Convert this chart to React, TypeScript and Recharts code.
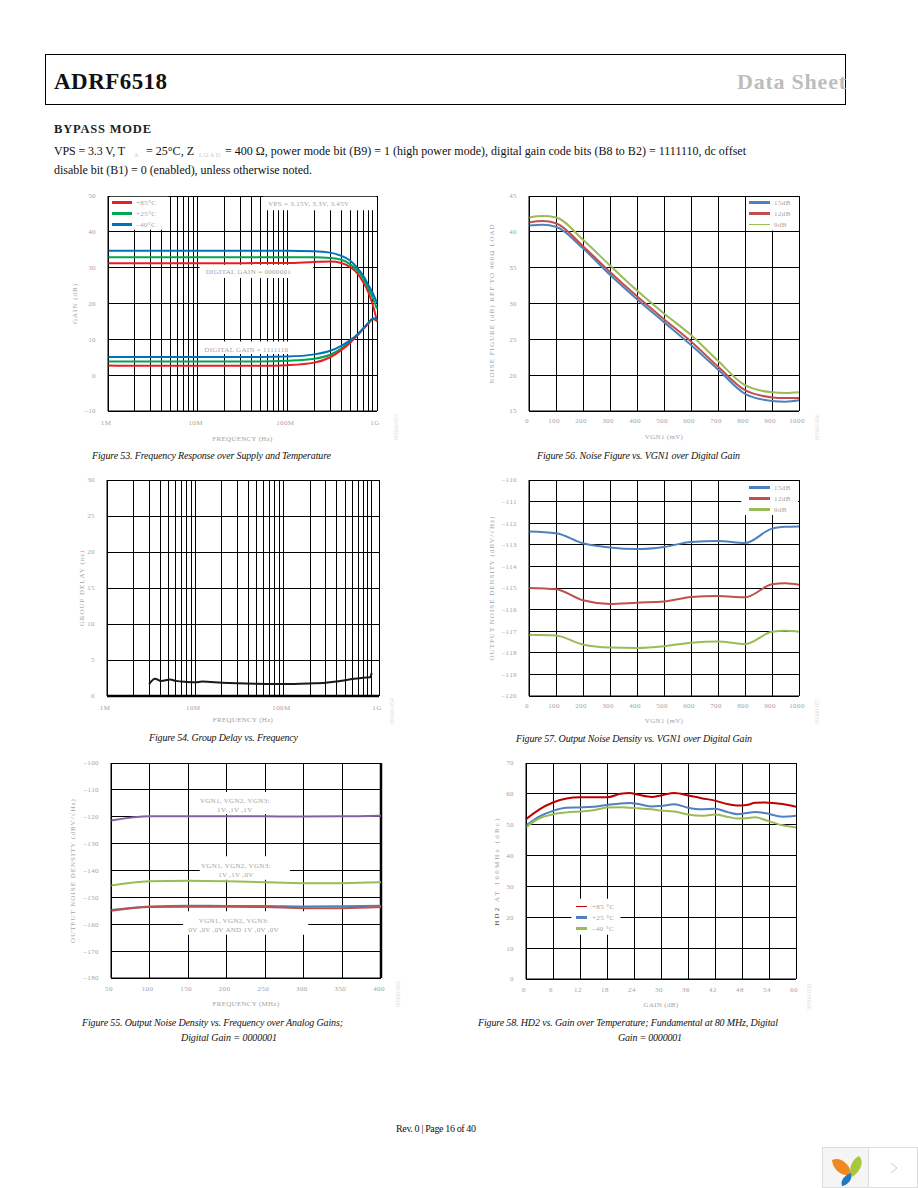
import {
  CartesianGrid,
  Label,
  Legend,
  Line,
  LineChart,
  ReferenceArea,
  ReferenceLine,
  XAxis,
  YAxis,
} from "recharts"

const FONT = '"Liberation Serif", serif'
const PALE = "#a3a3a3"

// Figure 53
const gainFreqs = [1e6, 2e6, 5e6, 1e7, 2e7, 5e7, 1e8, 2e8, 3e8, 4e8, 5e8, 6e8, 7e8, 8e8, 9e8, 1e9]
const gainHighHot = [31.2, 31.2, 31.2, 31.2, 31.2, 31.3, 31.3, 31.6, 31.7, 31.3, 30.2, 28.5, 26, 23.2, 19.5, 15]
const gainHighRoom = [32.9, 32.9, 32.9, 32.9, 32.9, 32.9, 32.9, 32.9, 32.7, 32.2, 31, 29.3, 27, 24.3, 21.5, 18.5]
const gainHighCold = [34.7, 34.7, 34.7, 34.7, 34.7, 34.7, 34.7, 34.6, 34.2, 33.3, 32, 30, 27.8, 25.2, 22.8, 20.2]
const gainLowHot = [2.7, 2.6, 2.6, 2.6, 2.6, 2.6, 2.8, 3.5, 5, 7, 9, 11, 12.8, 14.4, 15.8, 15]
const gainLowRoom = [3.8, 3.8, 3.8, 3.8, 3.8, 3.8, 4, 4.6, 5.7, 7.4, 9.4, 11.2, 13, 14.5, 15.6, 15.5]
const gainLowCold = [5.1, 5.1, 5.1, 5.1, 5.1, 5.1, 5.2, 5.8, 6.8, 8.2, 9.7, 11.3, 13, 14.6, 15.8, 15.8]
const gainTicks = [-10, 0, 10, 20, 30, 40, 50]

// Figure 54
const delayFreqs = [3e6, 3.5e6, 4.1e6, 5.2e6, 6e6, 8e6, 1e7, 1.2e7, 2e7, 5e7, 1e8, 2e8, 3e8, 4e8, 5e8, 6e8, 8e8, 9.6e8, 1e9]
const delayValues = [1.65, 2.4, 2.1, 2.3, 2.1, 1.95, 1.9, 2, 1.85, 1.7, 1.65, 1.75, 1.85, 2, 2.2, 2.35, 2.55, 2.6, 3.2]
const delayTicks = [0, 5, 10, 15, 20, 25, 30]

// Figure 55
const noiseFreqs = [50, 100, 150, 200, 250, 300, 350, 400]
const noiseAllHigh = [-121.4, -119.85, -119.8, -119.8, -119.85, -119.9, -119.85, -119.6]
const noiseTwoHigh = [-145.6, -144, -143.8, -144, -144.4, -144.7, -144.7, -144.4]
const noiseAllLow = [-154.7, -153.4, -153.1, -153.2, -153.2, -153.4, -153.3, -153.1]
const noiseOneHigh = [-155, -153.6, -153.5, -153.5, -153.6, -154, -154, -153.6]
const noiseTicks = [-180, -170, -160, -150, -140, -130, -120, -110, -100]
const noiseXTicks = [50, 100, 150, 200, 250, 300, 350, 400]

// Figure 56
const nfVgn = [0, 50, 100, 200, 300, 400, 500, 600, 700, 800, 900, 950, 1000]
const nf15 = [40.9, 41, 40.7, 37.7, 34, 30.6, 27.4, 24.2, 20.8, 17.4, 16.4, 16.3, 16.5]
const nf12 = [41.3, 41.5, 41.2, 38, 34.4, 31, 27.8, 24.7, 21.2, 17.9, 16.9, 16.8, 16.8]
const nf9 = [42, 42.2, 42, 38.9, 35.3, 31.8, 28.6, 25.6, 22, 18.6, 17.6, 17.5, 17.6]
const nfTicks = [15, 20, 25, 30, 35, 40, 45]
const vgnTicks = [0, 100, 200, 300, 400, 500, 600, 700, 800, 900, 1000]

// Figure 57
const ondVgn = [0, 100, 200, 300, 400, 500, 600, 700, 800, 900, 950, 1000]
const ond15 = [-112.39, -112.47, -112.93, -113.13, -113.2, -113.1, -112.87, -112.82, -112.92, -112.25, -112.17, -112.15]
const ond12 = [-115, -115.06, -115.57, -115.74, -115.68, -115.63, -115.42, -115.37, -115.43, -114.83, -114.78, -114.85]
const ond9 = [-117.16, -117.2, -117.62, -117.76, -117.78, -117.7, -117.53, -117.48, -117.6, -117.03, -116.98, -117.03]
const ondTicks = [-120, -119, -118, -117, -116, -115, -114, -113, -112, -111, -110]

// Figure 58
const hd2Gain = [0, 3, 6, 9, 12, 15, 18, 21, 23, 25, 28, 30, 33, 36, 39, 42, 45, 47, 49, 51, 53, 57, 60]
const hd2Hot = [51.8, 55, 57.2, 58.5, 58.9, 58.9, 58.9, 60, 60.3, 59.7, 59, 59.5, 60.3, 59.5, 58.6, 57.8, 56.6, 56.2, 56.4, 57.1, 57.2, 56.7, 55.8]
const hd2Room = [49.7, 52.7, 54.5, 55.5, 55.6, 55.8, 56.4, 56.9, 57, 56.7, 55.9, 56.1, 56.6, 55.5, 55, 55.2, 54, 53.4, 53.8, 54.1, 53.8, 52.6, 52.9]
const hd2Cold = [49.2, 52.1, 53.4, 54, 54.3, 54.7, 55.6, 55.7, 55.5, 55.3, 55, 54.6, 54.3, 53.3, 52.9, 53.3, 52.5, 52, 52.1, 52.4, 51.6, 49.8, 49.1]
const hd2Ticks = [0, 10, 20, 30, 40, 50, 60, 70]
const hd2XTicks = [0, 6, 12, 18, 24, 30, 36, 42, 48, 54, 60]

const logTicks = [1, 2, 3, 4, 5, 6, 7, 8, 9, 10, 20, 30, 40, 50, 60, 70, 80, 90, 100, 200, 300, 400, 500, 600, 700, 800, 900, 1000].map((m) => m * 1e6)
const decadeNames: Record<number, string> = { 1e6: "1M", 1e7: "10M", 1e8: "100M", 1e9: "1G" }

const gainRows = gainFreqs.map((f, i) => ({
  f,
  hiHot: gainHighHot[i],
  hiRoom: gainHighRoom[i],
  hiCold: gainHighCold[i],
  loHot: gainLowHot[i],
  loRoom: gainLowRoom[i],
  loCold: gainLowCold[i],
}))
const delayRows = delayFreqs.map((f, i) => ({ f, delay: delayValues[i] }))
const noiseRows = noiseFreqs.map((f, i) => ({
  f,
  allHigh: noiseAllHigh[i],
  twoHigh: noiseTwoHigh[i],
  allLow: noiseAllLow[i],
  oneHigh: noiseOneHigh[i],
}))
const nfRows = nfVgn.map((v, i) => ({ v, a: nf15[i], b: nf12[i], c: nf9[i] }))
const ondRows = ondVgn.map((v, i) => ({ v, a: ond15[i], b: ond12[i], c: ond9[i] }))
const hd2Rows = hd2Gain.map((g, i) => ({ g, hot: hd2Hot[i], room: hd2Room[i], cold: hd2Cold[i] }))

const tickStyle = { fill: PALE, fontSize: 7, fontFamily: FONT, letterSpacing: 0.4 }
const xTickStyle = { ...tickStyle, dx: -2 }
const labelStyle = { fill: PALE, fontSize: 7, fontFamily: FONT, letterSpacing: 0.3 }
const yLabelStyle = { ...labelStyle, letterSpacing: 1 }
const axisLine = { stroke: "#000", strokeWidth: 1 }
const gridProps = { stroke: "#000", strokeWidth: 1, strokeOpacity: 1, shapeRendering: "crispEdges" }
const minus = (v: number) => String(v).replace("-", "\u2013")
const margin = { top: 10, right: 10, left: 0, bottom: 0 }
const plain = { dot: false, activeDot: false, isAnimationActive: false, type: "monotone" as const }

const pageStyle: React.CSSProperties = {
  position: "absolute",
  left: 0,
  top: 0,
  width: 918,
  height: 1188,
  overflow: "hidden",
  background: "#fff",
}

const place = (left: number, top: number): React.CSSProperties => ({ position: "absolute", left, top })

function rowLegend(lineWidth: number, gap: number, thin?: string) {
  return ({ payload }: any) => (
    <div style={{ fontFamily: FONT, fontSize: 7, color: PALE, letterSpacing: 0.4 }}>
      {(payload || [])
        .filter((p: any) => p.type !== "none")
        .map((p: any) => (
          <div key={p.value} style={{ display: "flex", alignItems: "center", height: 11 }}>
            <div
              style={{
                width: lineWidth,
                height: p.value === thin ? 1.3 : 2.5,
                background: p.color,
                marginRight: gap,
              }}
            />
            <span>{p.value}</span>
          </div>
        ))}
    </div>
  )
}

const legendBase = {
  layout: "vertical" as const,
  align: "center" as const,
  verticalAlign: "middle" as const,
  itemSorter: null,
}

// only the "HD2" of this axis title is dark in the scan
const hd2Title = ({ viewBox }: any) => {
  const x = viewBox.x + 23
  const y = viewBox.y + viewBox.height / 2
  return (
    <text x={x} y={y} transform={`rotate(-90 ${x} ${y})`} textAnchor="middle" fontFamily={FONT} fontSize={7} letterSpacing={2.2} fill={PALE}>
      <tspan fill="#444">HD2</tspan> AT 160MHz (dBc)
    </text>
  )
}

function Fig53() {
  return (
    <div style={place(58, 186)}>
      <LineChart width={329} height={265} data={gainRows} margin={margin}>
        <CartesianGrid {...gridProps} />
        <XAxis
          dataKey="f"
          type="number"
          scale="log"
          domain={[1e6, 1e9]}
          ticks={logTicks}
          interval={0}
          tickLine={false}
          tickMargin={3}
          height={40}
          axisLine={axisLine}
          tick={xTickStyle}
          tickFormatter={(v: number) => decadeNames[v] || ""}
          label={{ value: "FREQUENCY (Hz)", position: "insideBottom", offset: 10, ...labelStyle }}
        />
        <YAxis
          type="number"
          domain={[-10, 50]}
          ticks={gainTicks}
          interval={0}
          width={50}
          tickLine={false}
          tickMargin={6}
          axisLine={axisLine}
          tick={tickStyle}
          tickFormatter={minus}
          label={{ value: "GAIN (dB)", angle: -90, position: "insideLeft", offset: 17, textAnchor: "middle", ...yLabelStyle }}
        />
        <ReferenceArea x1={1.05e6} x2={4.7e6} y1={40.6} y2={49.8} fill="#fff" fillOpacity={1} stroke="none" />
        <ReferenceArea x1={5.4e7} x2={9.8e8} y1={46} y2={49.8} fill="#fff" fillOpacity={1} stroke="none">
          <Label value="VPS = 3.15V, 3.3V, 3.45V" position="center" dx={-11} {...labelStyle} />
        </ReferenceArea>
        <ReferenceArea x1={1.05e7} x2={1.94e8} y1={27.1} y2={30.8} fill="#fff" fillOpacity={1} stroke="none">
          <Label value="DIGITAL GAIN = 0000001" position="center" dx={-8} {...labelStyle} />
        </ReferenceArea>
        <ReferenceArea x1={1.1e7} x2={1.11e8} y1={5.9} y2={9.4} fill="#fff" fillOpacity={1} stroke="none">
          <Label value="DIGITAL GAIN = 1111110" position="center" dy={2} {...labelStyle} />
        </ReferenceArea>
        <Line {...plain} dataKey="hiHot" name="+85°C" stroke="#ed1c24" strokeWidth={2} />
        <Line {...plain} dataKey="hiRoom" name="+25°C" stroke="#00a651" strokeWidth={2} />
        <Line {...plain} dataKey="hiCold" name={"\u201340°C"} stroke="#0072bc" strokeWidth={2} />
        <Line {...plain} dataKey="loRoom" legendType="none" stroke="#00a651" strokeWidth={2} />
        <Line {...plain} dataKey="loHot" legendType="none" stroke="#ed1c24" strokeWidth={2} />
        <Line {...plain} dataKey="loCold" legendType="none" stroke="#0072bc" strokeWidth={2} />
        <Legend
          {...legendBase}
          width={70}
          height={33}
          wrapperStyle={{ left: 54, top: 11 }}
          content={rowLegend(20, 4)}
        />
      </LineChart>
    </div>
  )
}

function Fig54() {
  return (
    <div style={place(57, 470)}>
      <LineChart width={332} height={266} data={delayRows} margin={margin}>
        <CartesianGrid {...gridProps} />
        <XAxis
          dataKey="f"
          type="number"
          scale="log"
          domain={[1e6, 1.21e9]}
          ticks={[...logTicks, 1.21e9]}
          interval={0}
          tickLine={false}
          tickMargin={3}
          height={40}
          axisLine={{ stroke: "#000", strokeWidth: 2.5 }}
          tick={xTickStyle}
          tickFormatter={(v: number) => (v === 1.21e9 ? "1G" : v === 1e9 ? "" : decadeNames[v] || "")}
          label={{ value: "FREQUENCY (Hz)", position: "insideBottom", offset: 14, ...labelStyle }}
        />
        <YAxis
          type="number"
          domain={[0, 30]}
          ticks={delayTicks}
          interval={0}
          width={50}
          tickLine={false}
          tickMargin={6}
          axisLine={axisLine}
          tick={tickStyle}
          label={{ value: "GROUP DELAY (ns)", angle: -90, position: "insideLeft", offset: 25, textAnchor: "middle", ...yLabelStyle }}
        />
        <Line {...plain} dataKey="delay" stroke="#1a1a1a" strokeWidth={2} />
      </LineChart>
    </div>
  )
}

function Fig55() {
  return (
    <div style={place(61, 753)}>
      <LineChart width={330} height={265} data={noiseRows} margin={margin}>
        <CartesianGrid {...gridProps} />
        <XAxis
          dataKey="f"
          type="number"
          domain={[50, 400]}
          ticks={noiseXTicks}
          interval={0}
          tickLine={false}
          tickMargin={2}
          height={40}
          axisLine={axisLine}
          tick={xTickStyle}
          label={{ value: "FREQUENCY (MHz)", position: "insideBottom", offset: 12, ...labelStyle }}
        />
        <YAxis
          type="number"
          domain={[-180, -100]}
          ticks={noiseTicks}
          interval={0}
          width={50}
          tickLine={false}
          tickMargin={6}
          axisLine={axisLine}
          tick={tickStyle}
          tickFormatter={minus}
          label={{ value: "OUTPUT NOISE DENSITY (dBV/\u221AHz)", angle: -90, position: "insideLeft", offset: 12, textAnchor: "middle", ...yLabelStyle }}
        />
        <ReferenceLine x={400} stroke="#000" strokeWidth={2.5} />
        <ReferenceArea x1={165} x2={256} y1={-119} y2={-110.8} fill="#fff" fillOpacity={1} stroke="none">
          <Label value="VGN1, VGN2, VGN3:" position="center" dy={-3} {...labelStyle} />
          <Label value="1V ,1V ,1V" position="center" dy={6} {...labelStyle} />
        </ReferenceArea>
        <ReferenceArea x1={165} x2={282} y1={-143.4} y2={-134.7} fill="#fff" fillOpacity={1} stroke="none">
          <Label value="VGN1, VGN2, VGN3:" position="center" dx={-9} dy={-2} {...labelStyle} />
          <Label value="1V ,1V ,0V" position="center" dx={-9} dy={7} {...labelStyle} />
        </ReferenceArea>
        <ReferenceArea x1={143.5} x2={305.7} y1={-163.9} y2={-155.2} fill="#fff" fillOpacity={1} stroke="none">
          <Label value="VGN1, VGN2, VGN3:" position="center" dx={-12} dy={-3} {...labelStyle} />
          <Label value="0V ,0V ,0V  AND  1V ,0V ,0V" position="center" dx={-12} dy={6} {...labelStyle} />
        </ReferenceArea>
        <Line {...plain} dataKey="allHigh" stroke="#8064a2" strokeWidth={2} />
        <Line {...plain} dataKey="twoHigh" stroke="#9bbb59" strokeWidth={2} />
        <Line {...plain} dataKey="allLow" stroke="#4f81bd" strokeWidth={2} />
        <Line {...plain} dataKey="oneHigh" stroke="#c0504d" strokeWidth={2} />
      </LineChart>
    </div>
  )
}

function Fig56() {
  return (
    <div style={place(479, 186)}>
      <LineChart width={330} height={265} data={nfRows} margin={margin}>
        <CartesianGrid {...gridProps} />
        <XAxis
          dataKey="v"
          type="number"
          domain={[0, 1000]}
          ticks={vgnTicks}
          interval={0}
          tickLine={false}
          tickMargin={1}
          height={40}
          axisLine={axisLine}
          tick={xTickStyle}
          label={{ value: "VGN1 (mV)", position: "insideBottom", offset: 12, ...labelStyle }}
        />
        <YAxis
          type="number"
          domain={[15, 45]}
          ticks={nfTicks}
          interval={0}
          width={50}
          tickLine={false}
          tickMargin={6}
          axisLine={axisLine}
          tick={tickStyle}
          label={{ value: "NOISE FIGURE (dB) REF TO 400\u03A9 LOAD", angle: -90, position: "insideLeft", offset: 13, textAnchor: "middle", ...yLabelStyle }}
        />
        <ReferenceArea x1={805} x2={996} y1={40.2} y2={44.85} fill="#fff" fillOpacity={1} stroke="none" />
        <Line {...plain} dataKey="a" name="15dB" stroke="#4f81bd" strokeWidth={2} />
        <Line {...plain} dataKey="b" name="12dB" stroke="#c0504d" strokeWidth={2} />
        <Line {...plain} dataKey="c" name="9dB" stroke="#9bbb59" strokeWidth={2} />
        <Legend
          {...legendBase}
          width={50}
          height={33}
          wrapperStyle={{ left: 270, top: 11 }}
          content={rowLegend(21, 4, "9dB")}
        />
      </LineChart>
    </div>
  )
}

function Fig57() {
  return (
    <div style={place(479, 470)}>
      <LineChart width={330} height={266} data={ondRows} margin={margin}>
        <CartesianGrid {...gridProps} />
        <XAxis
          dataKey="v"
          type="number"
          domain={[0, 1000]}
          ticks={vgnTicks}
          interval={0}
          tickLine={false}
          tickMargin={1}
          height={40}
          axisLine={axisLine}
          tick={xTickStyle}
          label={{ value: "VGN1 (mV)", position: "insideBottom", offset: 13, ...labelStyle }}
        />
        <YAxis
          type="number"
          domain={[-120, -110]}
          ticks={ondTicks}
          interval={0}
          width={50}
          tickLine={false}
          tickMargin={6}
          axisLine={axisLine}
          tick={tickStyle}
          tickFormatter={minus}
          label={{ value: "OUTPUT NOISE DENSITY (dBV/\u221AHz)", angle: -90, position: "insideLeft", offset: 13, textAnchor: "middle", ...yLabelStyle }}
        />
        <ReferenceArea x1={786} x2={996} y1={-111.62} y2={-110.05} fill="#fff" fillOpacity={1} stroke="none" />
        <Line {...plain} dataKey="a" name="15dB" stroke="#4f81bd" strokeWidth={2} />
        <Line {...plain} dataKey="b" name="12dB" stroke="#c0504d" strokeWidth={2} />
        <Line {...plain} dataKey="c" name="9dB" stroke="#9bbb59" strokeWidth={2} />
        <Legend
          {...legendBase}
          width={50}
          height={33}
          wrapperStyle={{ left: 270, top: 12 }}
          content={rowLegend(21, 4)}
        />
      </LineChart>
    </div>
  )
}

function Fig58() {
  return (
    <div style={place(476, 753)}>
      <LineChart width={330} height={266} data={hd2Rows} margin={margin}>
        <CartesianGrid {...gridProps} />
        <XAxis
          dataKey="g"
          type="number"
          domain={[0, 60]}
          ticks={hd2XTicks}
          interval={0}
          tickLine={false}
          tickMargin={2}
          height={40}
          axisLine={axisLine}
          tick={xTickStyle}
          label={{ value: "GAIN (dB)", position: "insideBottom", offset: 12, ...labelStyle }}
        />
        <YAxis
          type="number"
          domain={[0, 70]}
          ticks={hd2Ticks}
          interval={0}
          width={50}
          tickLine={false}
          tickMargin={6}
          axisLine={axisLine}
          tick={tickStyle}
          label={{ content: hd2Title }}
        />
        <ReferenceArea x1={10.1} x2={21} y1={14.3} y2={26} fill="#fff" fillOpacity={1} stroke="none" />
        <Line {...plain} dataKey="hot" name="+85 °C" stroke="#c00000" strokeWidth={2} />
        <Line {...plain} dataKey="room" name="+25 °C" stroke="#4f81bd" strokeWidth={2} />
        <Line {...plain} dataKey="cold" name={"\u201340 °C"} stroke="#9bbb59" strokeWidth={2} />
        <Legend
          {...legendBase}
          width={55}
          height={33}
          wrapperStyle={{ left: 100, top: 148 }}
          content={rowLegend(11, 5, "+85 °C")}
        />
      </LineChart>
    </div>
  )
}

const captions: [string, number, number, number][] = [
  ["Figure 53. Frequency Response over Supply and Temperature", 92, 459, 239],
  ["Figure 56. Noise Figure vs. VGN1 over Digital Gain", 537, 459, 203],
  ["Figure 54. Group Delay vs. Frequency", 149, 741, 149],
  ["Figure 57. Output Noise Density vs. VGN1 over Digital Gain", 516, 742, 236],
  ["Figure 55. Output Noise Density vs. Frequency over Analog Gains;", 82, 1026, 261],
  ["Digital Gain = 0000001", 181, 1041, 96],
  ["Figure 58. HD2 vs. Gain over Temperature; Fundamental at 80 MHz, Digital", 478, 1026, 300],
  ["Gain = 0000001", 618, 1041, 64],
]

const stamps: [string, number, number][] = [
  ["09560-053", 398, 440],
  ["09560-056", 819, 440],
  ["09560-054", 394, 724],
  ["09560-057", 819, 724],
  ["09560-055", 400, 1007],
  ["09560-058", 811, 1010],
]

function PageText() {
  return (
    <svg width={918} height={1188} style={{ position: "absolute", left: 0, top: 0 }} fontFamily={FONT}>
      <rect x={45.5} y={54.5} width={800} height={50} fill="none" stroke="#000" />
      <text x={54} y={89} fontSize={23} fontWeight="bold" fill="#111" textLength={113}>ADRF6518</text>
      <text x={737} y={89} fontSize={22} fontWeight="bold" fill="#bdbdbd" textLength={109}>Data Sheet</text>
      <text x={54} y={133} fontSize={12.5} fontWeight="bold" fill="#222" textLength={97}>BYPASS MODE</text>
      <text x={54} y={155} fontSize={12} fill="#111" textLength={71}>VPS = 3.3 V, T</text>
      <text x={134} y={157} fontSize={6} fill="#ccc">A</text>
      <text x={146} y={155} fontSize={12} fill="#111" textLength={48}>= 25°C, Z</text>
      <text x={199} y={157} fontSize={6} fill="#ccc" textLength={21}>LOAD</text>
      <text x={225} y={155} fontSize={12} fill="#111" textLength={521}>
        = 400 Ω, power mode bit (B9) = 1 (high power mode), digital gain code bits (B8 to B2) = 1111110, dc offset
      </text>
      <text x={54} y={174} fontSize={12} fill="#111" textLength={258}>
        disable bit (B1) = 0 (enabled), unless otherwise noted.
      </text>
      {captions.map(([t, x, y, w]) => (
        <text key={t} x={x} y={y} fontSize={10} fontStyle="italic" fill="#111" textLength={w}>{t}</text>
      ))}
      {stamps.map(([t, x, y]) => (
        <text key={t} x={x} y={y} fontSize={6} fill="#ddd" transform={`rotate(-90 ${x} ${y})`}>{t}</text>
      ))}
      <text x={396} y={1132} fontSize={10} fill="#111" textLength={80}>Rev. 0 | Page 16 of 40</text>
      {/* page viewer badge */}
      <rect x={822.5} y={1147.5} width={46} height={40} fill="#f5f5f5" stroke="#ddd" />
      <rect x={868.5} y={1147.5} width={49} height={40} fill="#fff" stroke="#ddd" />
      <path d="M832 1160 C840 1156 851 1164 851 1175 C842 1177 833 1170 832 1160 Z" fill="#ef8a22" />
      <path d="M859 1156 C865 1162 860 1172 852 1177 C848 1170 851 1160 859 1156 Z" fill="#a9c63f" />
      <path d="M851 1173 C853 1179 848 1185 842 1186 C840 1180 845 1175 851 1173 Z" fill="#1e78c2" />
      <path d="M891 1163 L897 1168 L891 1173" fill="none" stroke="#c8c8c8" />
    </svg>
  )
}

export default function App() {
  return (
    <div style={pageStyle}>
      <PageText />
      <Fig53 />
      <Fig56 />
      <Fig54 />
      <Fig57 />
      <Fig55 />
      <Fig58 />
    </div>
  )
}
